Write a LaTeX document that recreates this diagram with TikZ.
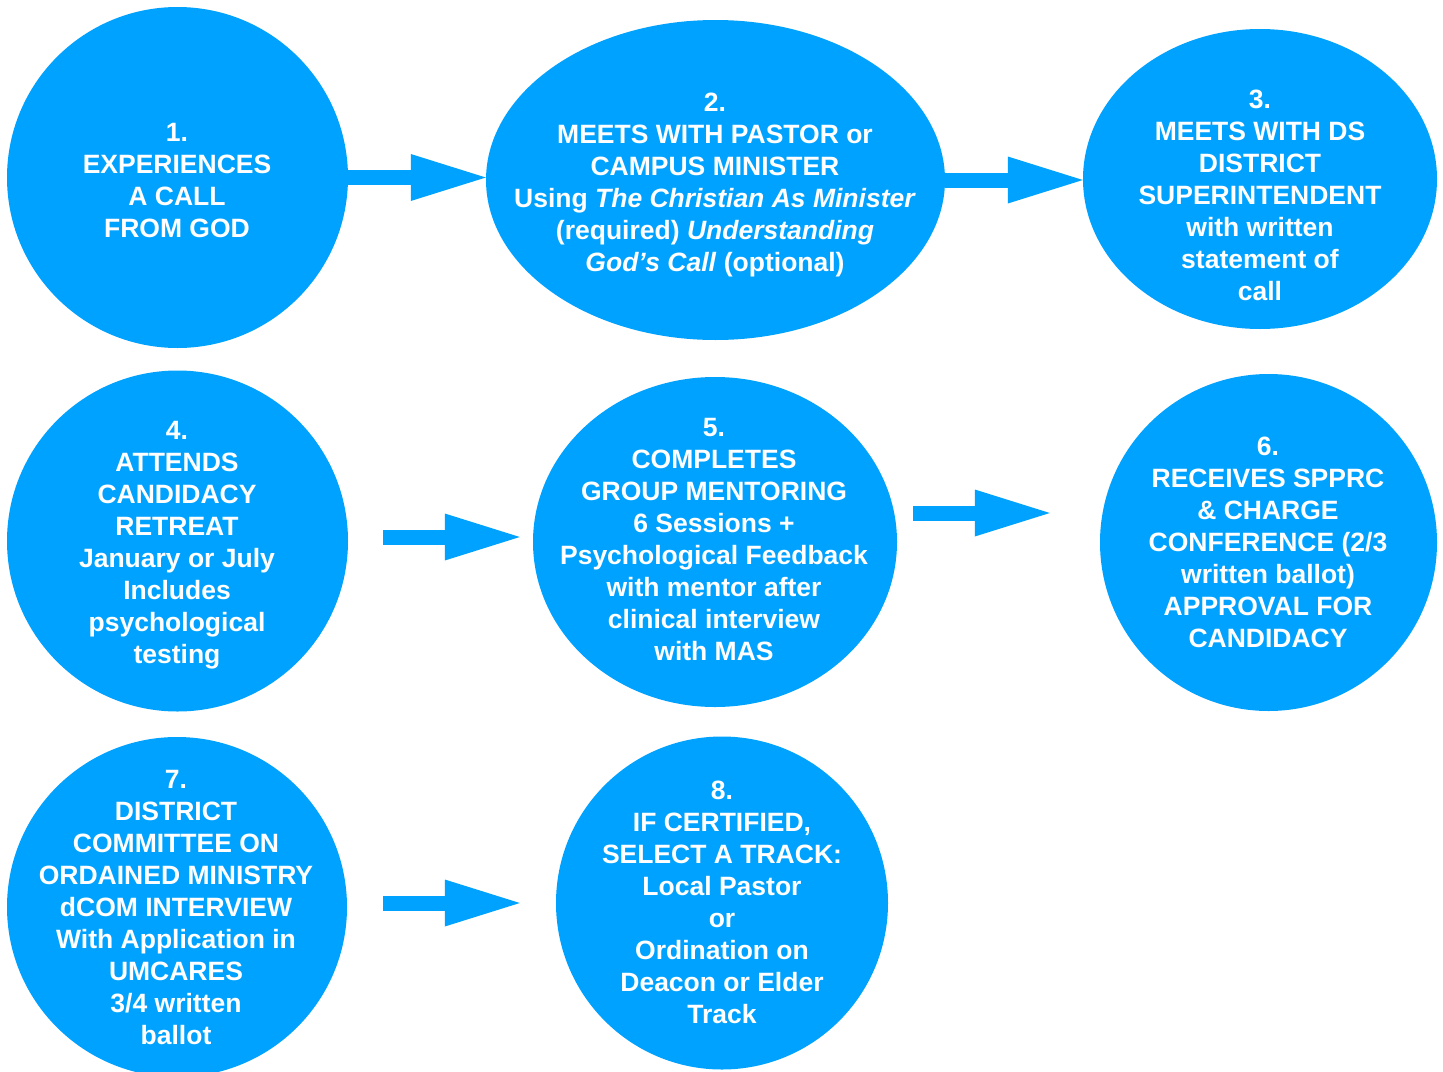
\documentclass[tikz,border=0pt]{standalone}
\usepackage{fontspec}
\setmainfont{Liberation Sans}
\usetikzlibrary{shapes.geometric,arrows.meta}
\definecolor{keyblue}{RGB}{0,162,255}

\begin{document}
\begin{tikzpicture}[x=1pt, y=-1pt,
        bubble/.style={ellipse, fill=keyblue, inner sep=0pt},
        txt/.style={text=white, align=center, inner sep=0pt, font=\bfseries\fontsize{26.5}{32}\selectfont},
        arrow/.style={-{Triangle[length=75pt, width=47pt, line width=0pt]}, line width=15pt, draw=keyblue}
    ]
    \useasboundingbox (0,0) rectangle (1443,1071);

    % bubbles
    \node[bubble, minimum width=341pt, minimum height=341pt] (s1) at (177.5,177.5) {};
    \node[bubble, minimum width=459pt, minimum height=320pt] (s2) at (715.5,180) {};
    \node[bubble, minimum width=354pt, minimum height=300pt] (s3) at (1260,179) {};
    \node[bubble, minimum width=341pt, minimum height=341pt] (s4) at (177.5,541) {};
    \node[bubble, minimum width=364pt, minimum height=330pt] (s5) at (715,542) {};
    \node[bubble, minimum width=337pt, minimum height=337pt] (s6) at (1268.5,542.5) {};
    \node[bubble, minimum width=340pt, minimum height=340pt] (s7) at (177,907) {};
    \node[bubble, minimum width=332pt, minimum height=333pt] (s8) at (722,903) {};

    % texts
    \node[txt] (t1) at (177,181) {1.\\EXPERIENCES\\A CALL\\FROM GOD};
    \node[txt] (t2) at (715,185) {2.\\MEETS WITH PASTOR or\\CAMPUS MINISTER\\Using \textit{The Christian As Minister}\\(required) \textit{Understanding}\\\textit{God’s Call} (optional)};
    \node[txt] (t3) at (1260,195) {3.\\MEETS WITH DS\\DISTRICT\\SUPERINTENDENT\\with written\\statement of\\call};
    \node[txt] (t4) at (177,545) {4.\\ATTENDS\\CANDIDACY\\RETREAT\\January or July\\Includes\\psychological\\testing};
    \node[txt] (t5) at (714,540) {5.\\COMPLETES\\GROUP MENTORING\\6 Sessions +\\Psychological Feedback\\with mentor after\\clinical interview\\with MAS};
    \node[txt] (t6) at (1268,542) {6.\\RECEIVES SPPRC\\\& CHARGE\\CONFERENCE (2/3\\written ballot)\\APPROVAL FOR\\CANDIDACY};
    \node[txt] (t7) at (176,907) {7.\\DISTRICT\\COMMITTEE ON\\ORDAINED MINISTRY\\dCOM INTERVIEW\\With Application in\\UMCARES\\3/4 written\\ballot};
    \node[txt] (t8) at (722,902) {8.\\IF CERTIFIED,\\SELECT A TRACK:\\Local Pastor\\or\\Ordination on\\Deacon or Elder\\Track};

    % arrows
    \draw[arrow] (s1.east) -- (s1.east -| s2.west);
    \draw[arrow] (s2.east) -- (s2.east -| s3.west);
    \draw[arrow, shorten <=35pt, shorten >=13pt] ([yshift=4pt]s4.east) -- ([yshift=4pt]s4.east -| s5.west);
    \draw[arrow, shorten <=16pt, shorten >=50pt] ([yshift=29pt]s5.east) -- ([yshift=29pt]s5.east -| s6.west);
    \draw[arrow, shorten <=36pt, shorten >=36pt] ([yshift=4pt]s7.east) -- ([yshift=4pt]s7.east -| s8.west);

\end{tikzpicture}
\end{document}
